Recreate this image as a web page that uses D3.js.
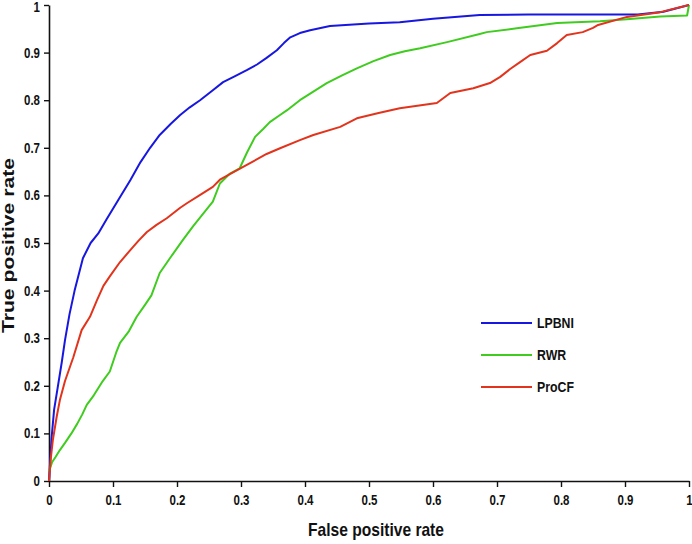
<!DOCTYPE html>
<html>
<head>
<meta charset="utf-8">
<script src="https://cdn.jsdelivr.net/npm/d3@7"></script>
<style>
  html, body { margin: 0; padding: 0; background: #fff; }
  svg { display: block; }
  .nar { font-family: "Liberation Sans", Arial, sans-serif; font-weight: bold; }
</style>
</head>
<body>
<svg id="chart" width="692" height="544"></svg>
<script>
const seriesNames = ["LPBNI", "RWR", "ProCF"];
const seriesColors = ["#1717e0", "#3fcc1f", "#e2341c"];
const xTicks = [0, 0.1, 0.2, 0.3, 0.4, 0.5, 0.6, 0.7, 0.8, 0.9, 1];
const yTicks = [0, 0.1, 0.2, 0.3, 0.4, 0.5, 0.6, 0.7, 0.8, 0.9, 1];

const lpbni = [[0,0],[0.004,0.09],[0.008,0.15],[0.014,0.2],[0.02,0.25],[0.025,0.296],[0.032,0.35],[0.04,0.40],[0.053,0.468],[0.065,0.50],[0.077,0.52],[0.09,0.55],[0.108,0.59],[0.127,0.632],[0.143,0.67],[0.158,0.70],[0.173,0.727],[0.19,0.75],[0.205,0.769],[0.22,0.785],[0.236,0.80],[0.255,0.82],[0.272,0.838],[0.29,0.85],[0.309,0.863],[0.325,0.875],[0.34,0.889],[0.356,0.905],[0.367,0.92],[0.377,0.932],[0.392,0.941],[0.408,0.947],[0.439,0.956],[0.5,0.961],[0.548,0.964],[0.6,0.971],[0.673,0.979],[0.75,0.98],[0.85,0.98],[0.92,0.98],[0.96,0.986],[1,1]];

const rwr = [[0,0.02],[0.005,0.04],[0.01,0.05],[0.017,0.065],[0.025,0.08],[0.035,0.1],[0.044,0.12],[0.052,0.14],[0.059,0.16],[0.07,0.18],[0.084,0.21],[0.095,0.23],[0.105,0.27],[0.111,0.29],[0.125,0.315],[0.137,0.345],[0.15,0.37],[0.16,0.39],[0.173,0.437],[0.19,0.47],[0.209,0.506],[0.225,0.535],[0.24,0.56],[0.256,0.587],[0.267,0.625],[0.282,0.645],[0.298,0.657],[0.309,0.689],[0.322,0.723],[0.335,0.74],[0.345,0.754],[0.361,0.769],[0.372,0.779],[0.392,0.8],[0.413,0.818],[0.434,0.836],[0.458,0.852],[0.481,0.867],[0.507,0.882],[0.533,0.895],[0.556,0.903],[0.58,0.909],[0.622,0.922],[0.673,0.939],[0.684,0.943],[0.731,0.951],[0.794,0.962],[0.861,0.966],[0.903,0.97],[0.955,0.976],[0.997,0.978],[1,1]];

const procf = [[0,0],[0.003,0.05],[0.006,0.086],[0.012,0.135],[0.017,0.17],[0.025,0.21],[0.038,0.26],[0.051,0.317],[0.064,0.345],[0.075,0.38],[0.085,0.41],[0.095,0.43],[0.111,0.46],[0.127,0.485],[0.14,0.505],[0.153,0.523],[0.168,0.538],[0.184,0.552],[0.205,0.574],[0.216,0.584],[0.235,0.60],[0.256,0.618],[0.267,0.633],[0.294,0.653],[0.317,0.67],[0.34,0.687],[0.361,0.699],[0.392,0.716],[0.413,0.727],[0.455,0.744],[0.481,0.762],[0.515,0.773],[0.548,0.783],[0.606,0.794],[0.627,0.815],[0.663,0.825],[0.689,0.836],[0.705,0.849],[0.72,0.865],[0.736,0.88],[0.752,0.895],[0.778,0.904],[0.794,0.92],[0.809,0.937],[0.834,0.943],[0.85,0.952],[0.858,0.958],[0.903,0.975],[0.955,0.985],[1,1]];

const seriesData = [lpbni, rwr, procf];

const margin = {left: 49, top: 5, right: 3, bottom: 63};
const W = 692, H = 544;
const svg = d3.select("#chart");
const x = d3.scaleLinear().domain([0, 1]).range([margin.left, W - margin.right]);
const y = d3.scaleLinear().domain([0, 1]).range([H - margin.bottom, margin.top]);

const fmt = d => d === 0 ? "0" : d === 1 ? "1" : d3.format(".1f")(d);

const xAxis = svg.append("g")
  .attr("transform", `translate(0,${y(0)})`)
  .call(d3.axisBottom(x).tickValues(xTicks).tickFormat(fmt).tickSize(6).tickSizeOuter(0).tickPadding(8));
const yAxis = svg.append("g")
  .attr("transform", `translate(${x(0)},0)`)
  .call(d3.axisLeft(y).tickValues(yTicks).tickFormat(fmt).tickSize(5).tickSizeOuter(0).tickPadding(4));

[xAxis, yAxis].forEach(g => {
  g.select(".domain").attr("stroke", "#111").attr("stroke-width", 1.6);
  g.selectAll(".tick line").attr("stroke", "#111").attr("stroke-width", 1.4);
  g.selectAll(".tick text").attr("class", "nar").attr("font-size", 14).attr("fill", "#111");
});
yAxis.selectAll(".tick").filter(d => d === 1).select("text").attr("dy", "0.45em");

const line = d3.line().x(d => x(d[0])).y(d => y(d[1]));

seriesData.forEach((s, i) => {
  svg.append("path")
    .datum(s)
    .attr("fill", "none")
    .attr("stroke", seriesColors[i])
    .attr("stroke-width", 2)
    .attr("stroke-linejoin", "round")
    .attr("d", line);
});

// legend
const leg = svg.append("g");
seriesNames.forEach((n, i) => {
  const ly = 323 + i * 32;
  leg.append("line").attr("x1", 481).attr("x2", 532).attr("y1", ly).attr("y2", ly)
    .attr("stroke", seriesColors[i]).attr("stroke-width", 2);
  leg.append("text").attr("class", "nar").attr("x", 537).attr("y", ly).attr("dy", "0.36em")
    .attr("font-size", 15).attr("fill", "#111").text(n);
});

// axis titles
svg.append("text").attr("class", "nar xtitle")
  .attr("x", 376).attr("y", 536).attr("text-anchor", "middle")
  .attr("font-size", 19).attr("fill", "#111").text("False positive rate");

svg.append("text").attr("class", "ytitle")
  .attr("transform", `translate(14,245.5) rotate(-90)`)
  .attr("text-anchor", "middle")
  .attr("font-family", "Liberation Sans, Arial, sans-serif").attr("font-weight", "bold")
  .attr("font-size", 16).attr("fill", "#111").text("True positive rate");

// condense narrow-style text
svg.selectAll("text.nar").each(function() {
  const len = this.getComputedTextLength();
  d3.select(this).attr("textLength", len * 0.82).attr("lengthAdjust", "spacingAndGlyphs");
});
svg.select("text.ytitle").attr("textLength", 175).attr("lengthAdjust", "spacingAndGlyphs");
</script>
</body>
</html>
